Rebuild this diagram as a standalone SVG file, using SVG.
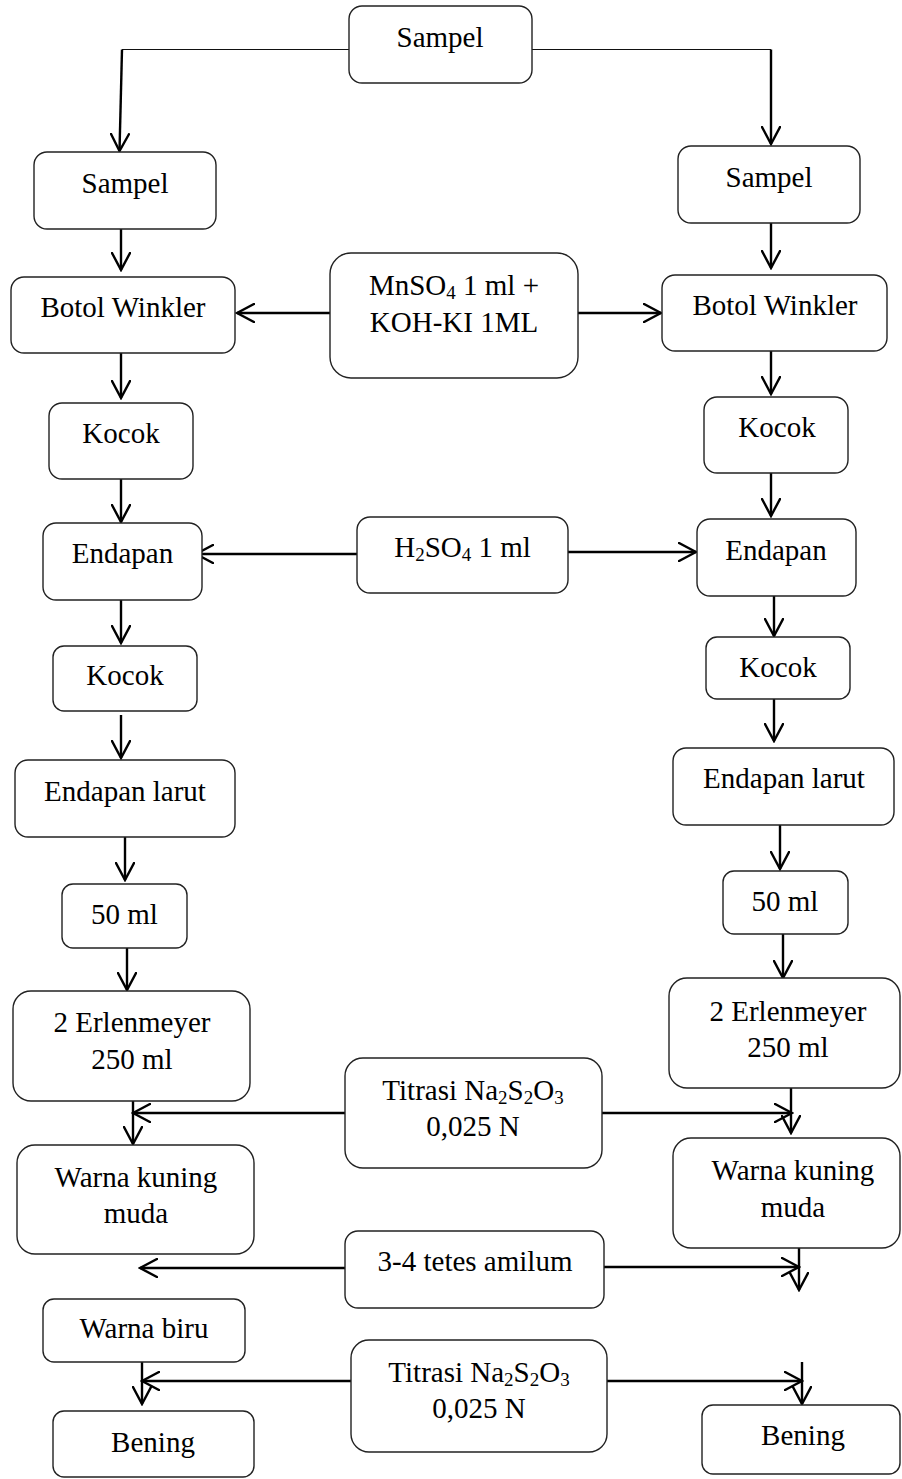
<svg xmlns="http://www.w3.org/2000/svg" width="902" height="1479" viewBox="0 0 902 1479">
  <defs>
    <style>
      .box { fill: #ffffff; stroke: #222222; stroke-width: 1.4; }
      .lbl { font-family: "Liberation Serif", "Times New Roman", serif; font-size: 29px; fill: #000000; text-anchor: middle; }
      .sub { font-size: 19px; }
      .thin { fill: none; stroke: #111111; stroke-width: 1.2; }
      .arr { fill: none; stroke: #000000; stroke-width: 2.4; marker-end: url(#head); }
    </style>
    <marker id="head" viewBox="0 0 20 20" refX="18" refY="10" markerWidth="20" markerHeight="20" markerUnits="userSpaceOnUse" orient="auto">
      <path d="M1,1 L18,10 L1,19" fill="none" stroke="#000000" stroke-width="2.4" stroke-linecap="round" stroke-linejoin="miter"/>
    </marker>
  </defs>
  <rect width="902" height="1479" fill="#ffffff"/>

  <!-- connectors -->
  <g id="connectors">
    <path class="thin" d="M349,49.5 L122,49.5"/>
    <path class="arr" d="M122,49.5 L119.5,151"/>
    <path class="thin" d="M532,49.5 L771,49.5"/>
    <path class="arr" d="M771,49.5 L771,144"/>

    <path class="arr" d="M121,229 L121,270"/>
    <path class="arr" d="M771,222 L771,268"/>
    <path class="arr" d="M330,313 L237,313"/>
    <path class="arr" d="M578,313 L661,313"/>

    <path class="arr" d="M121,353 L121,398"/>
    <path class="arr" d="M771,351 L771,394"/>
    <path class="arr" d="M121,479 L121,522"/>
    <path class="arr" d="M771,473 L771,516"/>

    <path class="arr" d="M357,554 L196,554"/>
    <path class="arr" d="M568,552 L696,552"/>

    <path class="arr" d="M121,600 L121,643"/>
    <path class="arr" d="M774,596 L774,636"/>
    <path class="arr" d="M121,715 L121,758"/>
    <path class="arr" d="M774,699 L774,741"/>

    <path class="arr" d="M125,837 L125,880"/>
    <path class="arr" d="M780,825 L780,869"/>
    <path class="arr" d="M127,948 L127,990"/>
    <path class="arr" d="M783,934 L783,978"/>

    <path class="arr" d="M133,1101 L133,1144"/>
    <path class="arr" d="M791,1088 L791,1133"/>
    <path class="arr" d="M345,1113 L133,1113"/>
    <path class="arr" d="M602,1113 L792,1113"/>

    <path class="arr" d="M345,1268 L140,1268"/>
    <path class="arr" d="M604,1267 L799,1267"/>
    <path class="arr" d="M799,1248 L799,1290"/>

    <path class="arr" d="M142,1362 L142,1404"/>
    <path class="arr" d="M351,1381 L142,1381"/>
    <path class="arr" d="M607,1381 L802,1381"/>
    <path class="arr" d="M802,1362 L802,1404"/>
  </g>

  <!-- nodes -->
  <g id="n-sampel-top">
    <rect class="box" x="349" y="6" width="183" height="77" rx="13"/>
    <text class="lbl" x="440" y="47">Sampel</text>
  </g>
  <g id="n-sampel-l">
    <rect class="box" x="34" y="152" width="182" height="77" rx="13"/>
    <text class="lbl" x="125" y="193">Sampel</text>
  </g>
  <g id="n-sampel-r">
    <rect class="box" x="678" y="146" width="182" height="77" rx="13"/>
    <text class="lbl" x="769" y="187">Sampel</text>
  </g>
  <g id="n-botol-l">
    <rect class="box" x="11" y="277" width="224" height="76" rx="13"/>
    <text class="lbl" x="123" y="317">Botol Winkler</text>
  </g>
  <g id="n-mnso4">
    <rect class="box" x="330" y="253" width="248" height="125" rx="21"/>
    <text class="lbl" x="454" y="295">MnSO<tspan class="sub" dy="4">4</tspan><tspan dy="-4"> 1 ml +</tspan></text>
    <text class="lbl" x="454" y="332">KOH-KI 1ML</text>
  </g>
  <g id="n-botol-r">
    <rect class="box" x="662" y="275" width="225" height="76" rx="13"/>
    <text class="lbl" x="775" y="315">Botol Winkler</text>
  </g>
  <g id="n-kocok1-l">
    <rect class="box" x="49" y="403" width="144" height="76" rx="13"/>
    <text class="lbl" x="121" y="443">Kocok</text>
  </g>
  <g id="n-kocok1-r">
    <rect class="box" x="704" y="397" width="144" height="76" rx="13"/>
    <text class="lbl" x="777" y="437">Kocok</text>
  </g>
  <g id="n-endapan-l">
    <rect class="box" x="43" y="523" width="159" height="77" rx="13"/>
    <text class="lbl" x="122.5" y="563">Endapan</text>
  </g>
  <g id="n-h2so4">
    <rect class="box" x="357" y="517" width="211" height="76" rx="13"/>
    <text class="lbl" x="462.5" y="557">H<tspan class="sub" dy="4">2</tspan><tspan dy="-4">SO</tspan><tspan class="sub" dy="4">4</tspan><tspan dy="-4"> 1 ml</tspan></text>
  </g>
  <g id="n-endapan-r">
    <rect class="box" x="697" y="519" width="159" height="77" rx="13"/>
    <text class="lbl" x="776" y="560">Endapan</text>
  </g>
  <g id="n-kocok2-l">
    <rect class="box" x="53" y="646" width="144" height="65" rx="11"/>
    <text class="lbl" x="125" y="685">Kocok</text>
  </g>
  <g id="n-kocok2-r">
    <rect class="box" x="706" y="637" width="144" height="62" rx="11"/>
    <text class="lbl" x="778" y="677">Kocok</text>
  </g>
  <g id="n-larut-l">
    <rect class="box" x="15" y="760" width="220" height="77" rx="13"/>
    <text class="lbl" x="125" y="801">Endapan larut</text>
  </g>
  <g id="n-larut-r">
    <rect class="box" x="673" y="748" width="221" height="77" rx="13"/>
    <text class="lbl" x="784" y="788">Endapan larut</text>
  </g>
  <g id="n-50ml-l">
    <rect class="box" x="62" y="884" width="125" height="64" rx="11"/>
    <text class="lbl" x="124.5" y="924">50 ml</text>
  </g>
  <g id="n-50ml-r">
    <rect class="box" x="723" y="871" width="125" height="63" rx="11"/>
    <text class="lbl" x="785" y="911">50 ml</text>
  </g>
  <g id="n-erlen-l">
    <rect class="box" x="13" y="991" width="237" height="110" rx="18"/>
    <text class="lbl" x="132" y="1032">2 Erlenmeyer</text>
    <text class="lbl" x="132" y="1069">250 ml</text>
  </g>
  <g id="n-erlen-r">
    <rect class="box" x="669" y="978" width="231" height="110" rx="18"/>
    <text class="lbl" x="788" y="1021">2 Erlenmeyer</text>
    <text class="lbl" x="788" y="1057">250 ml</text>
  </g>
  <g id="n-titrasi1">
    <rect class="box" x="345" y="1058" width="257" height="110" rx="18"/>
    <text class="lbl" x="473" y="1100">Titrasi Na<tspan class="sub" dy="4">2</tspan><tspan dy="-4">S</tspan><tspan class="sub" dy="4">2</tspan><tspan dy="-4">O</tspan><tspan class="sub" dy="4">3</tspan></text>
    <text class="lbl" x="473" y="1136">0,025 N</text>
  </g>
  <g id="n-kuning-l">
    <rect class="box" x="17" y="1145" width="237" height="109" rx="18"/>
    <text class="lbl" x="136" y="1187">Warna kuning</text>
    <text class="lbl" x="136" y="1223">muda</text>
  </g>
  <g id="n-kuning-r">
    <rect class="box" x="673" y="1138" width="227" height="110" rx="18"/>
    <text class="lbl" x="793" y="1180">Warna kuning</text>
    <text class="lbl" x="793" y="1217">muda</text>
  </g>
  <g id="n-amilum">
    <rect class="box" x="345" y="1231" width="259" height="77" rx="13"/>
    <text class="lbl" x="475" y="1271">3-4 tetes amilum</text>
  </g>
  <g id="n-biru">
    <rect class="box" x="43" y="1299" width="202" height="63" rx="11"/>
    <text class="lbl" x="144" y="1338">Warna biru</text>
  </g>
  <g id="n-titrasi2">
    <rect class="box" x="351" y="1340" width="256" height="112" rx="18"/>
    <text class="lbl" x="479" y="1382">Titrasi Na<tspan class="sub" dy="4">2</tspan><tspan dy="-4">S</tspan><tspan class="sub" dy="4">2</tspan><tspan dy="-4">O</tspan><tspan class="sub" dy="4">3</tspan></text>
    <text class="lbl" x="479" y="1418">0,025 N</text>
  </g>
  <g id="n-bening-l">
    <rect class="box" x="53" y="1411" width="201" height="66" rx="11"/>
    <text class="lbl" x="153" y="1452">Bening</text>
  </g>
  <g id="n-bening-r">
    <rect class="box" x="702" y="1405" width="198" height="69" rx="11"/>
    <text class="lbl" x="803" y="1445">Bening</text>
  </g>
</svg>
